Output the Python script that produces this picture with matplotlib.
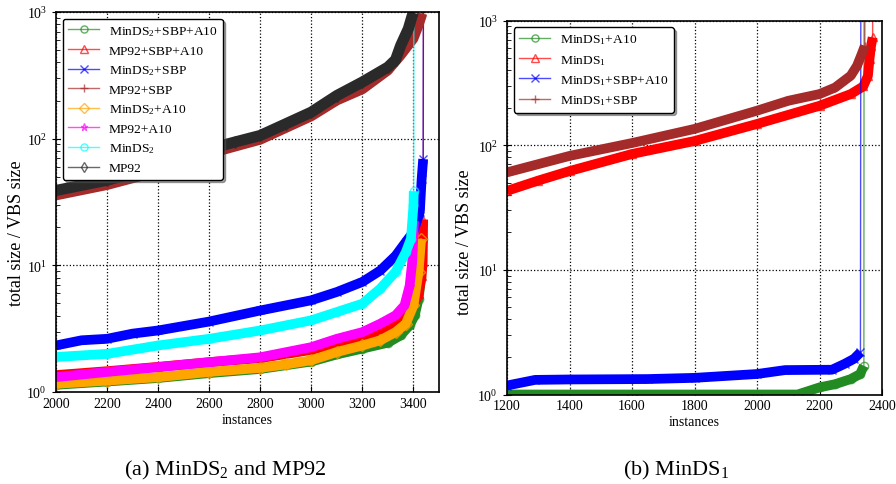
import matplotlib
matplotlib.use('Agg')
import matplotlib.pyplot as plt

plt.rcParams['font.family'] = ['Liberation Serif', 'DejaVu Serif']
plt.rcParams['mathtext.fontset'] = 'stix'
plt.rcParams['mathtext.default'] = 'regular'

TIMEOUT = 1e5   # unsolved instances, drawn off the top of the plot

# ---- (a) MinDS2 and MP92 ----
a_labels = ['MinDS$_2$+SBP+A10', 'MP92+SBP+A10', 'MinDS$_2$+SBP', 'MP92+SBP',
            'MinDS$_2$+A10', 'MP92+A10', 'MinDS$_2$', 'MP92']

x_ms2_sbp_a10 = [2000, 2200, 2400, 2600, 2800, 3000, 3100, 3200, 3300, 3350, 3385, 3405, 3420, 3430, 3436]
y_ms2_sbp_a10 = [1.14, 1.21, 1.29, 1.41, 1.52, 1.74, 1.98, 2.2, 2.45, 2.8, 3.36, 4.03, 5.45, 7.9, 16.2]

x_mp_sbp_a10 = [2000, 2200, 2400, 2600, 2800, 3000, 3100, 3200, 3270, 3330, 3370, 3400, 3420, 3432, 3436, 3438, 3440]
y_mp_sbp_a10 = [1.36, 1.46, 1.58, 1.72, 1.85, 2.15, 2.4, 2.63, 2.97, 3.46, 4.03, 4.83, 5.9, 8.3, 10.6, 23, TIMEOUT]

x_ms2_sbp = [2000, 2100, 2200, 2300, 2400, 2600, 2800, 3000, 3100, 3200, 3270, 3330, 3370, 3400, 3425, 3432, 3438, 3440]
y_ms2_sbp = [2.33, 2.56, 2.63, 2.89, 3.06, 3.6, 4.4, 5.3, 6.16, 7.4, 9.1, 11.9, 15.3, 18.4, 26.4, 48, 69, TIMEOUT]

x_mp_sbp = [2000, 2200, 2400, 2600, 2800, 3000, 3100, 3200, 3300, 3350, 3400, 3420, 3435, 3437]
y_mp_sbp = [35.6, 43, 55, 76, 98, 150, 200, 245, 345, 454, 615, 781, 968, TIMEOUT]

x_ms2_a10 = [2000, 2200, 2400, 2600, 2800, 2900, 3000, 3100, 3200, 3270, 3330, 3370, 3400, 3420, 3430]
y_ms2_a10 = [1.16, 1.23, 1.31, 1.44, 1.55, 1.65, 1.78, 2.07, 2.33, 2.56, 2.97, 3.46, 4.83, 8.9, 16.2]

x_mp_a10 = [2000, 2200, 2400, 2600, 2800, 3000, 3100, 3200, 3270, 3330, 3365, 3385, 3395, 3402]
y_mp_a10 = [1.31, 1.44, 1.57, 1.72, 1.88, 2.26, 2.63, 2.97, 3.46, 4.03, 4.83, 6.9, 10.6, 22]

x_ms2 = [2000, 2200, 2400, 2600, 2800, 3000, 3100, 3200, 3270, 3330, 3370, 3390, 3400, 3401, 3402]
y_ms2 = [1.89, 2.0, 2.33, 2.63, 3.06, 3.68, 4.28, 4.98, 6.55, 8.9, 12.7, 16.2, 29.7, 38.5, TIMEOUT]

x_mp = [2000, 2200, 2400, 2600, 2700, 2800, 2900, 3000, 3100, 3200, 3300, 3330, 3350, 3380, 3395, 3400, 3402]
y_mp = [39, 47, 60, 83, 94, 106, 131, 162, 219, 280, 367, 420, 544, 738, 935, 990, TIMEOUT]

# ---- (b) MinDS1 ----
b_labels = ['MinDS$_1$+A10', 'MinDS$_1$', 'MinDS$_1$+SBP+A10', 'MinDS$_1$+SBP']

x_ms1_a10 = [1200, 1600, 2000, 2130, 2200, 2250, 2300, 2330, 2342, 2343]
y_ms1_a10 = [1.0, 1.0, 1.0, 1.0, 1.14, 1.21, 1.33, 1.46, 1.7, TIMEOUT]

x_ms1 = [1200, 1300, 1400, 1600, 1800, 2000, 2200, 2300, 2340, 2355, 2360, 2365, 2370, 2372]
y_ms1 = [43, 52, 62, 85, 108, 148, 207, 257, 296, 360, 490, 626, 732, TIMEOUT]

x_ms1_sbp_a10 = [1200, 1290, 1400, 1650, 1800, 2000, 2090, 2240, 2280, 2310, 2331, 2333]
y_ms1_sbp_a10 = [1.18, 1.31, 1.32, 1.33, 1.36, 1.46, 1.57, 1.58, 1.76, 1.93, 2.18, TIMEOUT]

x_ms1_sbp = [1200, 1400, 1600, 1800, 2000, 2100, 2200, 2250, 2300, 2320, 2335, 2345, 2346]
y_ms1_sbp = [60.5, 82, 104, 135, 189, 227, 257, 290, 361, 433, 537, 626, TIMEOUT]


def cactus(ax, x, y, color, marker, label, band_lw=7):
    # dense runs of markers look like a solid band in the original
    n = len(x) - 1 if y[-1] >= TIMEOUT else len(x)
    ax.plot(x[:n], y[:n], color=color, lw=band_lw,
            solid_capstyle='butt', solid_joinstyle='round')
    ax.plot(x, y, color=color, lw=1, marker=marker, ms=6, mfc='none',
            mew=1, alpha=0.7, label=label)


def style(ax, xlim, xticks):
    ax.set_yscale('log')
    ax.set_ylim(1, 1000)
    ax.set_xlim(*xlim)
    ax.set_xticks(xticks)
    ax.grid(True, which='major', color='black', linestyle=':', lw=0.9)
    ax.tick_params(which='both', labelsize=10, color='black')
    ax.tick_params(axis='y', which='major', direction='inout', length=6)
    ax.tick_params(axis='y', which='minor', direction='in', length=3)
    ax.tick_params(axis='x', which='major', direction='in', length=4)
    for s in ax.spines.values():
        s.set_linewidth(1.2)
    ax.set_xlabel('instances', fontsize=10, labelpad=2)
    ax.set_ylabel('total size / VBS size', fontsize=13)
    ax.legend(loc='upper left', fontsize=9.7, shadow=True, fancybox=True,
              framealpha=1, edgecolor='black', handlelength=2.3,
              handletextpad=0.7, labelspacing=0.48, markerscale=0.85)


fig = plt.figure(figsize=(8.96, 4.85), dpi=100)
ax1 = fig.add_axes([56 / 896, 1 - 393 / 485, 383 / 896, 380 / 485])
ax2 = fig.add_axes([507 / 896, 1 - 395.5 / 485, 375 / 896, 374 / 485])

cactus(ax1, x_ms2_sbp_a10, y_ms2_sbp_a10, 'forestgreen', 'o', a_labels[0])
cactus(ax1, x_mp_sbp_a10, y_mp_sbp_a10, 'red', '^', a_labels[1])
cactus(ax1, x_ms2_sbp, y_ms2_sbp, 'blue', 'x', a_labels[2])
cactus(ax1, x_mp_sbp, y_mp_sbp, 'brown', '+', a_labels[3])
cactus(ax1, x_ms2_a10, y_ms2_a10, 'orange', 'D', a_labels[4])
cactus(ax1, x_mp_a10, y_mp_a10, 'magenta', '*', a_labels[5])
cactus(ax1, x_ms2, y_ms2, 'cyan', 'o', a_labels[6])
cactus(ax1, x_mp, y_mp, '#2a2a2a', 'd', a_labels[7], band_lw=8)
style(ax1, (2000, 3500), range(2000, 3401, 200))

cactus(ax2, x_ms1_a10, y_ms1_a10, 'forestgreen', 'o', b_labels[0])
cactus(ax2, x_ms1, y_ms1, 'red', '^', b_labels[1])
cactus(ax2, x_ms1_sbp_a10, y_ms1_sbp_a10, 'blue', 'x', b_labels[2])
cactus(ax2, x_ms1_sbp, y_ms1_sbp, 'brown', '+', b_labels[3])
style(ax2, (1200, 2400), range(1200, 2401, 200))

ax1.yaxis.set_label_coords(-0.081, 0.42)
ax2.yaxis.set_label_coords(-0.091, 0.41)

fig.text(225 / 896, 1 - 470 / 485, '(a) MinDS$_2$ and MP92', ha='center', va='center', fontsize=16)
fig.text(676 / 896, 1 - 470 / 485, '(b) MinDS$_1$', ha='center', va='center', fontsize=16)

fig.savefig('out.png', dpi=100)
